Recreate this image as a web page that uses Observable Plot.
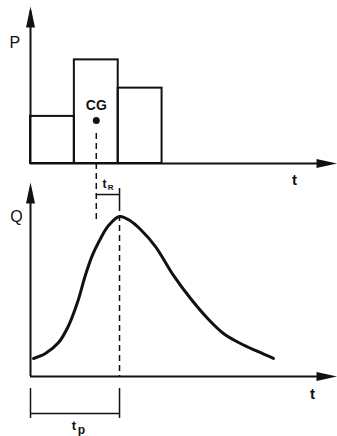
<!DOCTYPE html>
<html>
<head>
<meta charset="utf-8">
<script src="https://cdn.jsdelivr.net/npm/d3@7"></script>
<script src="https://cdn.jsdelivr.net/npm/@observablehq/plot@0.6"></script>
<style>
  html, body { margin: 0; padding: 0; background: #fff; }
  #wrap { position: relative; width: 337px; height: 436px; overflow: hidden; }
  #wrap svg { position: absolute; left: 0; top: 0; overflow: visible; }
</style>
</head>
<body>
<div id="wrap"></div>
<script>
// ---- Data ----
// Hyetograph (rainfall blocks)
const barStart = [0, 1, 2];
const barEnd = [1, 2, 3];
const rainfall = [3.0, 6.6, 4.8];
// Centre of gravity of rainfall
const cgT = 1.5;
const cgP = 2.74;
// Hydrograph
const hydroT = [0.07, 0.34, 0.64, 0.87, 1.07, 1.25, 1.41, 1.55, 1.78, 2.03, 2.28, 2.51, 2.85, 3.26, 3.65, 4.04, 4.40, 4.79, 5.18, 5.54];
const hydroQ = [0.93, 1.19, 1.75, 2.63, 3.81, 5.21, 6.24, 6.91, 7.78, 8.25, 8.02, 7.58, 6.70, 5.21, 4.02, 2.99, 2.22, 1.70, 1.29, 0.93];
const peakT = 2.03;
const axisMaxT = 7;
const axisMaxV = 10;

const FONT = "Liberation Sans, Arial, sans-serif";
const W = 337, H = 436;

// custom filled arrowhead, tip at origin, pointing up
const arrowHead = {
  draw(context) {
    context.moveTo(0, 0);
    context.lineTo(4.5, 21);
    context.lineTo(-4.5, 21);
    context.closePath();
  }
};

const bars = barStart.map((s, i) => ({s, e: barEnd[i], p: rainfall[i]}));
const hydro = hydroT.map((t, i) => ({t, q: hydroQ[i]}));

const xScale = {domain: [0, axisMaxT], axis: null};

// ---- Top: rainfall P ----
const plotP = Plot.plot({
  width: W, height: H,
  marginLeft: 30, marginRight: 0, marginTop: 6, marginBottom: H - 163,
  x: xScale,
  y: {domain: [0, axisMaxV], axis: null},
  style: {background: "transparent", overflow: "visible"},
  marks: [
    Plot.rectY(bars, {x1: "s", x2: "e", y1: 0, y2: "p", fill: "none", stroke: "#111", strokeWidth: 2}),
    Plot.ruleX([0], {y1: 0, y2: axisMaxV * 0.97, stroke: "#111", strokeWidth: 2}),
    Plot.ruleY([0], {x1: 0, x2: axisMaxT * 0.97, stroke: "#111", strokeWidth: 2}),
    Plot.dot([[0, axisMaxV]], {x: d => d[0], y: d => d[1], symbol: arrowHead, fill: "#111", stroke: "none"}),
    Plot.dot([[axisMaxT, 0]], {x: d => d[0], y: d => d[1], symbol: arrowHead, rotate: 90, fill: "#111", stroke: "none"}),
    Plot.dot([[cgT, cgP]], {x: d => d[0], y: d => d[1], r: 3.5, fill: "#111", stroke: "none"}),
    Plot.text(["CG"], {x: cgT, y: 3.7, fontSize: 14, fontWeight: "bold", fontFamily: FONT, fill: "#111"}),
    Plot.text(["P"], {x: -0.36, y: 7.7, fontSize: 16, fontFamily: FONT, fill: "#111"}),
    Plot.text(["t"], {x: 6.02, y: -1.08, fontSize: 15, fontWeight: "bold", fontFamily: FONT, fill: "#111"})
  ]
});

// ---- Bottom: discharge Q ----
const plotQ = Plot.plot({
  width: W, height: H,
  marginLeft: 30, marginRight: 0, marginTop: 182, marginBottom: H - 376,
  x: xScale,
  y: {domain: [0, axisMaxV], axis: null},
  style: {background: "transparent", overflow: "visible"},
  marks: [
    Plot.ruleX([0], {y1: 0, y2: axisMaxV * 0.97, stroke: "#111", strokeWidth: 2}),
    Plot.ruleY([0], {x1: 0, x2: axisMaxT * 0.97, stroke: "#111", strokeWidth: 2}),
    Plot.dot([[0, axisMaxV]], {x: d => d[0], y: d => d[1], symbol: arrowHead, fill: "#111", stroke: "none"}),
    Plot.dot([[axisMaxT, 0]], {x: d => d[0], y: d => d[1], symbol: arrowHead, rotate: 90, fill: "#111", stroke: "none"}),
    // CG projection (dashed)
    Plot.ruleX([cgT], {y1: 12.53, y2: 7.94, stroke: "#111", strokeWidth: 1.5, strokeDasharray: "6,4"}),
    // peak projection (dashed)
    Plot.ruleX([peakT], {y1: 8.81, y2: 0, stroke: "#111", strokeWidth: 1.5, strokeDasharray: "6,4"}),
    // t_R bracket
    Plot.ruleY([9.38], {x1: cgT, x2: peakT, stroke: "#111", strokeWidth: 1.5}),
    Plot.ruleX([peakT], {y1: 9.69, y2: 8.81, stroke: "#111", strokeWidth: 1.5}),
    Plot.text(["t"], {x: 1.69, y: 9.9, fontSize: 12, fontWeight: "bold", fontFamily: FONT, fill: "#111"}),
    Plot.text(["R"], {x: 1.83, y: 9.72, fontSize: 8, fontWeight: "bold", fontFamily: FONT, fill: "#111"}),
    // t_p bracket
    Plot.ruleX([0, peakT], {y1: -0.62, y2: -2.16, stroke: "#111", strokeWidth: 1.5}),
    Plot.ruleY([-1.91], {x1: 0, x2: peakT, stroke: "#111", strokeWidth: 1.5}),
    Plot.text(["t"], {x: 0.99, y: -2.55, fontSize: 13, fontWeight: "bold", fontFamily: FONT, fill: "#111"}),
    Plot.text(["p"], {x: 1.16, y: -2.78, fontSize: 12, fontWeight: "bold", fontFamily: FONT, fill: "#111"}),
    // hydrograph
    Plot.line(hydro, {x: "t", y: "q", curve: "catmull-rom", stroke: "#111", strokeWidth: 3}),
    Plot.text(["Q"], {x: -0.32, y: 8.25, fontSize: 16, fontFamily: FONT, fill: "#111"}),
    Plot.text(["t"], {x: 6.43, y: -0.93, fontSize: 15, fontWeight: "bold", fontFamily: FONT, fill: "#111"})
  ]
});

const wrap = document.getElementById("wrap");
wrap.appendChild(plotP);
wrap.appendChild(plotQ);
</script>
</body>
</html>
